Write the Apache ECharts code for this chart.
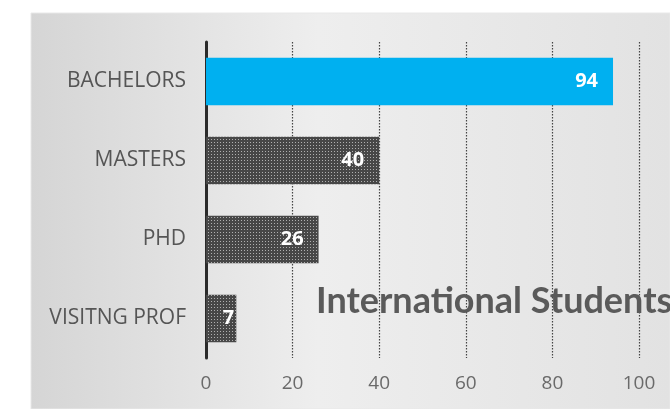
<!DOCTYPE html>
<html><head><meta charset="utf-8">
<script src="https://cdn.jsdelivr.net/npm/echarts@6/dist/echarts.min.js"></script>
<style>html,body{margin:0;padding:0;background:#fff;}#c{width:670px;height:409px;}</style>
</head><body><div id="c"></div>
<script>
const categories = ['BACHELORS', 'MASTERS', 'PHD', 'VISITNG PROF'];
const values = [94, 40, 26, 7];
const xTicks = [0, 20, 40, 60, 80, 100];
const titleText = 'International Students';

// dotted pattern for the grey bars
const pc = document.createElement('canvas');
pc.width = 3; pc.height = 3;
const px = pc.getContext('2d');
px.fillStyle = '#474747'; px.fillRect(0, 0, 3, 3);
px.fillStyle = '#b0b0b0'; px.fillRect(1, 1, 1, 1);

const chart = echarts.init(document.getElementById('c'), null, {renderer: 'canvas'});
chart.setOption({
  animation: false,
  backgroundColor: '#ffffff',
  graphic: [{
    type: 'rect', z: -10, silent: true,
    shape: {x: 31, y: 13, width: 639, height: 396},
    style: {
      fill: {type: 'linear', x: 0, y: 0, x2: 1, y2: 0, colorStops: [
        {offset: 0, color: '#d5d5d5'}, {offset: 0.45, color: '#eeeeee'}, {offset: 1, color: '#e2e2e2'}]},
      stroke: '#e8e8e8', lineWidth: 1
    }
  }],
  title: {
    text: titleText, left: 311, top: 278,
    textStyle: {fontFamily: 'Lato', fontWeight: 'bold', fontSize: 36, color: '#5a5a5a'}
  },
  grid: {left: 206, right: 31, top: 42, bottom: 51, containLabel: false},
  xAxis: {
    type: 'value', min: 0, max: 100, interval: 20,
    axisLine: {show: false}, axisTick: {show: false},
    axisLabel: {
      margin: 16, fontFamily: 'Open Sans', fontSize: 19, color: '#6a6a6a',
      formatter: v => xTicks.includes(v) ? String(v) : ''
    },
    splitLine: {show: true, lineStyle: {type: [1.5, 1.5], color: '#444', width: 1.2}}
  },
  yAxis: {
    type: 'category', data: categories, inverse: true,
    axisLine: {show: true, lineStyle: {color: '#2b2b2b', width: 3}},
    axisTick: {show: false},
    axisLabel: {margin: 20, fontFamily: 'Open Sans', fontSize: 21, color: '#555'}
  },
  series: [{
    type: 'bar', data: values.map((v, i) => ({
      value: v,
      itemStyle: i === 0 ? {color: '#00b0f0'} : {color: {image: pc, repeat: 'repeat'}},
      label: v < 10 ? {distance: 2} : undefined
    })),
    barCategoryGap: '40%',
    label: {
      show: true, position: 'insideRight', distance: 15,
      fontFamily: 'Open Sans', fontWeight: 'bold', fontSize: 20, color: '#fff'
    }
  }]
});
</script></body></html>
